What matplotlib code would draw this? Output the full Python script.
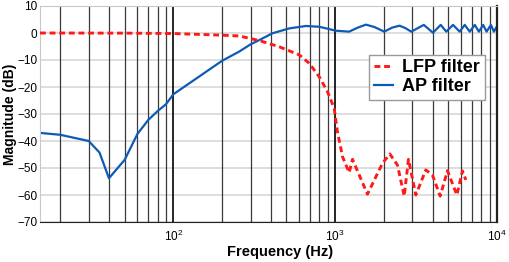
import matplotlib
matplotlib.use("Agg")
import matplotlib.pyplot as plt
from matplotlib.ticker import LogLocator, NullFormatter

# AP filter (blue, solid)
ap_freq = [15, 20, 30, 35, 40, 50, 60, 70, 80, 90, 100, 200, 255, 300, 340, 410,
           520, 660, 800, 1010, 1220, 1380, 1550, 1750, 2010, 2250, 2500, 2720,
           2950, 3530, 4020, 4490, 4860, 5350, 5880, 6320, 6790, 7290, 7730,
           8210, 8620, 9170, 9570, 10000]
ap_db = [-37, -37.7, -40, -44.3, -53.8, -47, -37.4, -32.2, -28.9, -26.4, -22.7,
         -10.3, -6.9, -4.2, -2.6, -0.1, 1.7, 2.6, 2.3, 0.85, 0.5, 2.0, 3.1, 2.2,
         0.5, 2.0, 2.7, 1.8, 0.5, 3.0, 0.1, 3.0, 0.5, 3.0, 0.5, 3.0, 0.5, 3.0,
         0.5, 3.0, 0.5, 3.0, 0.5, 2.5]

# LFP filter (red, dashed)
lfp_freq = [15, 50, 100, 200, 255, 340, 451, 600, 691, 797, 896, 986, 1033, 1110,
            1220, 1280, 1583, 1958, 2177, 2426, 2670, 2837, 3150, 3631, 3990,
            4455, 4943, 5650, 6120, 6417]
lfp_db = [0, -0.05, -0.2, -0.8, -1.1, -2.8, -5.1, -8.1, -11.2, -16.2, -21.7,
          -27.9, -36.6, -45.8, -51.7, -46.8, -59.7, -48.3, -44.8, -48.9, -60.4,
          -46.8, -60, -50.7, -52.6, -60.4, -51, -60, -51.1, -54.4]

y_ticks = [10, 0, -10, -20, -30, -40, -50, -60, -70]

plt.rcParams['font.family'] = ['Liberation Sans', 'DejaVu Sans']

fig = plt.figure(figsize=(5.1, 2.62), dpi=100)
ax = fig.add_axes([40 / 510, 1 - 222 / 262, 457 / 510, 216 / 262])

ax.set_xscale('log')
ax.set_xlim(15, 10000)
ax.set_ylim(-70, 10)

# grids: light horizontal, dark vertical (minor), black at decades
for y in y_ticks:
    ax.axhline(y, color='#d8d8d8', lw=1.2, zorder=0)
for dec in [10, 100, 1000]:
    for m in range(2, 10):
        f = dec * m
        if 15 < f < 10000:
            ax.axvline(f, color='#3a3a3a', lw=0.9, zorder=0.5)
for f in [100, 1000]:
    ax.axvline(f, color='black', lw=1.2, zorder=0.6)

ax.plot(lfp_freq, lfp_db, color='#ff1a1a', lw=2.1, dashes=(2.0, 1.3),
        label='LFP filter', zorder=3)
ax.plot(ap_freq, ap_db, color='#0d5bb5', lw=1.6, label='AP filter', zorder=2)

ax.set_yticks(y_ticks)
ax.xaxis.set_major_locator(LogLocator(base=10, numticks=10))
ax.xaxis.set_minor_locator(LogLocator(base=10, subs=range(2, 10), numticks=20))
ax.xaxis.set_minor_formatter(NullFormatter())
ax.tick_params(axis='both', which='both', direction='in', length=0,
               labelsize=8.5, colors='black')
ax.tick_params(axis='x', pad=5)
ax.tick_params(axis='y', pad=2)

for s in ['left', 'top']:
    ax.spines[s].set_color('#c8c8c8')
ax.spines['bottom'].set_color('#222222')
ax.spines['right'].set_color('#222222')
ax.spines['right'].set_linewidth(1.6)

ax.set_ylabel('Magnitude (dB)', fontsize=10, fontweight='bold')
ax.yaxis.set_label_coords(-0.05, 0.5)
ax.set_xlabel('Frequency (Hz)', fontsize=10.5, fontweight='bold')
ax.xaxis.set_label_coords(0.525, -0.105)

leg = ax.legend(loc='upper left', bbox_to_anchor=(0.72, 0.775),
                borderaxespad=0, fancybox=False, framealpha=1,
                edgecolor='#999999', handlelength=1.1, handletextpad=0.5,
                borderpad=0.25, labelspacing=0.12,
                prop={'weight': 'bold', 'size': 13})
leg.get_frame().set_linewidth(1.0)

fig.savefig('out.png', dpi=100)
